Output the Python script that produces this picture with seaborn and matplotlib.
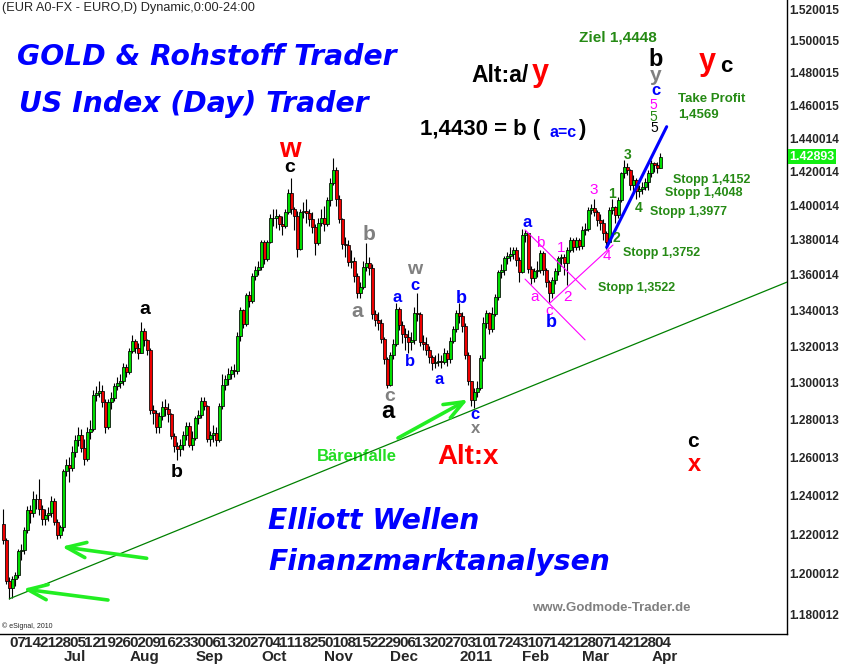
# %%
## LIBRARY
import numpy as np
import matplotlib.pyplot as plt
import matplotlib.transforms as mtransforms
from matplotlib import ticker, font_manager
import seaborn as sns

# %%
## DATA  (EUR/USD daily, bar 0 = 3 Jun 2010 ... bar 219 = 6 Apr 2011)
first_open = 1.2253

close = [
    1.2171, 1.1967, 1.1928, 1.1975, 1.1993, 1.2114, 1.2121, 1.2222, 1.2325, 1.2310,
    1.2385, 1.2380, 1.2331, 1.2277, 1.2300, 1.2310, 1.2370, 1.2266, 1.2200, 1.2236,
    1.2526, 1.2560, 1.2545, 1.2628, 1.2690, 1.2720, 1.2648, 1.2594, 1.2732, 1.2750,
    1.2935, 1.2945, 1.2955, 1.2898, 1.2762, 1.2894, 1.2916, 1.2984, 1.3000, 1.3010,
    1.3087, 1.3060, 1.3175, 1.3230, 1.3190, 1.3160, 1.3286, 1.3235, 1.3180, 1.2850,
    1.2836, 1.2759, 1.2820, 1.2868, 1.2860, 1.2829, 1.2716, 1.2660, 1.2645, 1.2666,
    1.2721, 1.2766, 1.2668, 1.2705, 1.2810, 1.2828, 1.2899, 1.2876, 1.2695, 1.2720,
    1.2727, 1.2690, 1.2876, 1.2990, 1.3020, 1.3050, 1.3071, 1.3065, 1.3256, 1.3402,
    1.3324, 1.3486, 1.3450, 1.3593, 1.3628, 1.3645, 1.3790, 1.3690, 1.3790, 1.3926,
    1.3930, 1.3940, 1.3890, 1.3880, 1.3965, 1.4076, 1.3980, 1.3940, 1.3750, 1.3960,
    1.3970, 1.3955, 1.3920, 1.3874, 1.3785, 1.3900, 1.3930, 1.3890, 1.4033, 1.4132,
    1.4210, 1.4037, 1.3920, 1.3777, 1.3770, 1.3675, 1.3680, 1.3591, 1.3495, 1.3530,
    1.3645, 1.3670, 1.3640, 1.3378, 1.3345, 1.3330, 1.3241, 1.3128, 1.2985, 1.3150,
    1.3215, 1.3409, 1.3320, 1.3267, 1.3250, 1.3225, 1.3232, 1.3386, 1.3380, 1.3225,
    1.3215, 1.3180, 1.3140, 1.3110, 1.3115, 1.3120, 1.3115, 1.3160, 1.3128, 1.3230,
    1.3294, 1.3383, 1.3370, 1.3310, 1.3152, 1.3007, 1.2908, 1.2950, 1.2970, 1.3137,
    1.3330, 1.3385, 1.3297, 1.3380, 1.3475, 1.3616, 1.3630, 1.3695, 1.3710, 1.3720,
    1.3740, 1.3685, 1.3616, 1.3830, 1.3838, 1.3636, 1.3585, 1.3620, 1.3628, 1.3727,
    1.3630, 1.3560, 1.3495, 1.3571, 1.3620, 1.3695, 1.3700, 1.3670, 1.3742, 1.3800,
    1.3760, 1.3800, 1.3765, 1.3860, 1.3865, 1.3974, 1.3985, 1.3960, 1.3918, 1.3900,
    1.3840, 1.3790, 1.3975, 1.3990, 1.3945, 1.4033, 1.4190, 1.4230, 1.4210, 1.4120,
    1.4150, 1.4085, 1.4100, 1.4110, 1.4140, 1.4190, 1.4250, 1.4240, 1.4225, 1.42893,
]

high = [
    1.2331, 1.2180, 1.1985, 1.1990, 1.2010, 1.2125, 1.2150, 1.2240, 1.2344, 1.2350,
    1.2425, 1.2410, 1.2487, 1.2350, 1.2330, 1.2340, 1.2400, 1.2390, 1.2280, 1.2250,
    1.2540, 1.2590, 1.2600, 1.2660, 1.2720, 1.2760, 1.2750, 1.2700, 1.2760, 1.2800,
    1.2960, 1.2980, 1.3010, 1.2990, 1.2910, 1.2910, 1.2950, 1.3000, 1.3030, 1.3050,
    1.3110, 1.3100, 1.3190, 1.3260, 1.3240, 1.3220, 1.3333, 1.3300, 1.3240, 1.3190,
    1.2880, 1.2850, 1.2840, 1.2900, 1.2910, 1.2890, 1.2835, 1.2730, 1.2680, 1.2700,
    1.2740, 1.2790, 1.2790, 1.2740, 1.2820, 1.2850, 1.2920, 1.2920, 1.2880, 1.2740,
    1.2770, 1.2760, 1.2890, 1.3050, 1.3040, 1.3080, 1.3090, 1.3100, 1.3280, 1.3420,
    1.3410, 1.3500, 1.3510, 1.3610, 1.3650, 1.3680, 1.3800, 1.3800, 1.3800, 1.3950,
    1.3980, 1.3980, 1.3950, 1.3940, 1.3980, 1.4100, 1.4160, 1.3990, 1.3970, 1.3980,
    1.4020, 1.4040, 1.3980, 1.3960, 1.3890, 1.3930, 1.3980, 1.4000, 1.4050, 1.4160,
    1.4282, 1.4230, 1.4060, 1.3930, 1.3820, 1.3800, 1.3740, 1.3700, 1.3610, 1.3560,
    1.3680, 1.3785, 1.3700, 1.3660, 1.3400, 1.3390, 1.3350, 1.3250, 1.3140, 1.3170,
    1.3240, 1.3440, 1.3420, 1.3340, 1.3300, 1.3290, 1.3280, 1.3420, 1.3500, 1.3390,
    1.3260, 1.3250, 1.3200, 1.3150, 1.3150, 1.3160, 1.3150, 1.3190, 1.3180, 1.3250,
    1.3310, 1.3400, 1.3440, 1.3390, 1.3330, 1.3170, 1.3010, 1.2970, 1.3010, 1.3150,
    1.3360, 1.3400, 1.3390, 1.3420, 1.3490, 1.3630, 1.3660, 1.3710, 1.3730, 1.3760,
    1.3760, 1.3760, 1.3700, 1.3862, 1.3860, 1.3840, 1.3650, 1.3640, 1.3680, 1.3740,
    1.3735, 1.3640, 1.3570, 1.3590, 1.3640, 1.3710, 1.3720, 1.3720, 1.3760, 1.3820,
    1.3810, 1.3820, 1.3810, 1.3880, 1.3900, 1.3990, 1.4010, 1.4037, 1.3975, 1.3950,
    1.3920, 1.3850, 1.3990, 1.4040, 1.4000, 1.4050, 1.4200, 1.4270, 1.4250, 1.4215,
    1.4180, 1.4160, 1.4120, 1.4140, 1.4160, 1.4210, 1.4270, 1.4260, 1.4260, 1.4310,
]

low = [
    1.2150, 1.1950, 1.1876, 1.1880, 1.1940, 1.1980, 1.2070, 1.2100, 1.2210, 1.2260,
    1.2290, 1.2330, 1.2300, 1.2250, 1.2250, 1.2270, 1.2290, 1.2250, 1.2175, 1.2180,
    1.2220, 1.2500, 1.2470, 1.2530, 1.2600, 1.2660, 1.2630, 1.2560, 1.2580, 1.2700,
    1.2740, 1.2900, 1.2920, 1.2870, 1.2730, 1.2750, 1.2860, 1.2900, 1.2960, 1.2970,
    1.2990, 1.3030, 1.3050, 1.3160, 1.3160, 1.3130, 1.3160, 1.3200, 1.3150, 1.2830,
    1.2780, 1.2730, 1.2730, 1.2800, 1.2820, 1.2790, 1.2700, 1.2630, 1.2588, 1.2610,
    1.2640, 1.2690, 1.2655, 1.2640, 1.2690, 1.2780, 1.2810, 1.2850, 1.2680, 1.2660,
    1.2680, 1.2660, 1.2680, 1.2860, 1.2960, 1.2990, 1.3020, 1.3030, 1.3050, 1.3230,
    1.3300, 1.3310, 1.3420, 1.3440, 1.3570, 1.3600, 1.3630, 1.3660, 1.3680, 1.3780,
    1.3880, 1.3870, 1.3860, 1.3830, 1.3870, 1.3950, 1.3950, 1.3860, 1.3700, 1.3740,
    1.3930, 1.3900, 1.3880, 1.3840, 1.3712, 1.3770, 1.3880, 1.3850, 1.3880, 1.4000,
    1.4120, 1.4000, 1.3900, 1.3750, 1.3700, 1.3650, 1.3640, 1.3560, 1.3467, 1.3470,
    1.3520, 1.3620, 1.3600, 1.3350, 1.3310, 1.3290, 1.3220, 1.3100, 1.2969, 1.2980,
    1.3130, 1.3200, 1.3290, 1.3220, 1.3180, 1.3160, 1.3180, 1.3210, 1.3340, 1.3200,
    1.3180, 1.3150, 1.3110, 1.3070, 1.3080, 1.3090, 1.3080, 1.3100, 1.3090, 1.3110,
    1.3220, 1.3280, 1.3330, 1.3280, 1.3130, 1.2990, 1.2875, 1.2861, 1.2920, 1.2960,
    1.3120, 1.3300, 1.3270, 1.3280, 1.3370, 1.3460, 1.3580, 1.3600, 1.3660, 1.3680,
    1.3690, 1.3650, 1.3560, 1.3610, 1.3790, 1.3610, 1.3550, 1.3560, 1.3590, 1.3610,
    1.3600, 1.3530, 1.3445, 1.3470, 1.3550, 1.3600, 1.3650, 1.3600, 1.3540, 1.3730,
    1.3730, 1.3740, 1.3740, 1.3750, 1.3830, 1.3850, 1.3950, 1.3940, 1.3880, 1.3860,
    1.3800, 1.3750, 1.3780, 1.3950, 1.3900, 1.3930, 1.4020, 1.4160, 1.4180, 1.4090,
    1.4080, 1.4040, 1.4050, 1.4070, 1.4090, 1.4090, 1.4170, 1.4200, 1.4190, 1.4220,
]

# weekly (Monday) tick labels and first trading bar of each month
day_labels = ["07", "14", "21", "28", "05", "12", "19", "26", "02", "09", "16", "23", "30",
              "06", "13", "20", "27", "04", "11", "18", "25", "01", "08", "15", "22", "29",
              "06", "13", "20", "27", "03", "10", "17", "24", "31", "07", "14", "21", "28",
              "07", "14", "21", "28", "04"]
month_labels = ["Jul", "Aug", "Sep", "Oct", "Nov", "Dec", "2011", "Feb", "Mar", "Apr"]
month_bars = [20, 42, 64, 86, 107, 129, 152, 173, 193, 216]

price_ticks = [1.180012, 1.200012, 1.220012, 1.240012, 1.260013, 1.280013, 1.300013,
               1.320013, 1.340013, 1.360014, 1.380014, 1.400014, 1.420014, 1.440014,
               1.460015, 1.480015, 1.500015, 1.520015]

# analyst drawings (bar, price)
trend_bars, trend_prices = [2, 261.2], [1.1876, 1.3559]
blue_bars, blue_prices = [201.1, 221.1], [1.3758, 1.4470]
pink_lines = [([173.9, 194.1], [1.3858, 1.3518]),
              ([173.9, 193.9], [1.3576, 1.3235]),
              ([182.2, 203.2], [1.3441, 1.3771])]

assert len(close) == len(high) == len(low)

# %%
## STYLE
sns.set_style("white")
plt.rcParams["font.family"] = ["Liberation Sans", "DejaVu Sans"]
installed = {f.name for f in font_manager.fontManager.ttflist}
narrow = "Liberation Sans Narrow" if "Liberation Sans Narrow" in installed else "Liberation Sans"

BLUE, RED, GRAY, PINK = "#0000ff", "#ff0000", "#808080", "#ff00ff"
GREEN_T, LIME = "#258a14", "#22ee22"

# %%
## PLOT
fig = plt.figure(figsize=(8.41, 6.65), dpi=100)
ax = fig.add_axes([0, 1 - 634 / 665, 787 / 841, 634 / 665])
ax.set_yscale("log")

bars = np.arange(len(close))
c = np.array(close)
h = np.array(high)
l = np.array(low)
o = np.concatenate([[first_open], c[:-1]])
up = c >= o

ax.vlines(bars, l, h, color="black", linewidth=0.8, zorder=2)
ax.bar(bars, np.maximum(np.abs(c - o), 0.0004), bottom=np.minimum(o, c), width=0.8,
       color=np.where(up, "#00dd00", "#ee0000"), edgecolor="black", linewidth=0.55, zorder=3)

# trend lines
sns.lineplot(x=trend_bars, y=trend_prices, ax=ax, color="#008000", linewidth=0.9, zorder=4)
sns.lineplot(x=blue_bars, y=blue_prices, ax=ax, color=BLUE, linewidth=2.2, zorder=4)
for xs, ys in pink_lines:
    sns.lineplot(x=xs, y=ys, ax=ax, color=PINK, linewidth=0.8, zorder=4)

ax.set_xlim(-1.1, 261.2)
ax.set_ylim(1.17025, 1.52578)
ax.set_xlabel("")
ax.set_ylabel("")

for s in ["left", "top"]:
    ax.spines[s].set_visible(False)
for s in ["right", "bottom"]:
    ax.spines[s].set_color("black")
    ax.spines[s].set_linewidth(1.0)

# axes
ax.yaxis.tick_right()
ax.set_yticks(price_ticks, [f"{v:.6f}" for v in price_ticks])
ax.yaxis.set_minor_locator(ticker.NullLocator())
ax.tick_params(axis="y", length=0, pad=1.5, labelsize=8.6)
for t in ax.get_yticklabels():
    t.set_fontweight("bold")

ax.set_xticks(range(2, 2 + 5 * len(day_labels), 5), day_labels)
ax.xaxis.set_minor_locator(ticker.NullLocator())
ax.tick_params(axis="x", length=0, pad=1.5)
for t in ax.get_xticklabels():
    t.set_fontweight("bold")
    t.set_family(narrow)
    t.set_fontsize(11)
    t.set_ha("left")

bt = mtransforms.blended_transform_factory(ax.transData, ax.transAxes)
for b, lab in zip(month_bars, month_labels):
    ax.text(b, -0.037, lab, transform=bt, ha="left", va="center",
            fontweight="bold", family=narrow, fontsize=11)

# last price box
rt = mtransforms.blended_transform_factory(ax.transAxes, ax.transData)
ax.text(1.0318, close[-1], f"{close[-1]:.5f}", transform=rt, ha="center", va="center",
        color="white", fontweight="bold", fontsize=9, clip_on=False, zorder=6,
        bbox=dict(boxstyle="square,pad=0.12", fc="#11ee11", ec="none"))

# %%
## ANNOTATIONS
wave_labels = [
    ("w", 95.6, 1.4330, RED, 20, "bold"), ("c", 95.6, 1.4228, "black", 14, "bold"),
    ("a", 47.2, 1.3402, "black", 14, "bold"), ("b", 57.9, 1.2521, "black", 14, "bold"),
    ("b", 121.9, 1.3829, GRAY, 15, "bold"), ("a", 117.9, 1.3391, GRAY, 15, "bold"),
    ("w", 137.2, 1.3628, GRAY, 14, "bold"), ("c", 137.2, 1.3537, BLUE, 12, "bold"),
    ("a", 131.3, 1.3474, BLUE, 12, "bold"), ("b", 135.6, 1.3114, BLUE, 12, "bold"),
    ("a", 145.3, 1.3016, BLUE, 12, "bold"), ("b", 152.8, 1.3469, BLUE, 13, "bold"),
    ("c", 128.7, 1.2924, GRAY, 14, "bold"), ("a", 128.3, 1.2844, "black", 17, "bold"),
    ("c", 157.2, 1.2828, BLUE, 12, "bold"), ("x", 157.5, 1.2753, GRAY, 12, "bold"),
    ("a", 174.5, 1.3904, BLUE, 12, "bold"), ("b", 179.0, 1.3783, PINK, 11, "normal"),
    ("a", 177.2, 1.3474, PINK, 11, "normal"), ("c", 182.0, 1.3396, PINK, 11, "normal"),
    ("b", 182.5, 1.3329, BLUE, 13, "bold"), ("1", 185.9, 1.3754, PINK, 11, "normal"),
    ("2", 187.9, 1.3474, PINK, 11, "normal"), ("3", 196.9, 1.4092, PINK, 11, "normal"),
    ("4", 201.1, 1.3708, PINK, 11, "normal"), ("2", 204.2, 1.3812, GREEN_T, 10, "bold"),
    ("1", 202.9, 1.4068, GREEN_T, 10, "bold"), ("3", 207.9, 1.4300, GREEN_T, 10, "bold"),
    ("4", 211.9, 1.3986, GREEN_T, 10, "bold"),
    ("b", 217.4, 1.4885, "black", 17, "bold"), ("y", 217.4, 1.4786, GRAY, 15, "bold"),
    ("c", 217.4, 1.4690, BLUE, 12, "bold"), ("5", 216.7, 1.4601, PINK, 10, "normal"),
    ("5", 216.7, 1.4530, GREEN_T, 10, "normal"), ("5", 216.9, 1.4462, "black", 10, "normal"),
    ("y", 234.5, 1.4866, RED, 22, "bold"), ("c", 241.1, 1.4838, "black", 16, "bold"),
    ("c", 229.9, 1.2683, "black", 15, "bold"), ("x", 230.2, 1.2561, RED, 17, "bold"),
]
for txt, b, p, col, size, weight in wave_labels:
    ax.text(b, p, txt, color=col, fontsize=size, fontweight=weight,
            ha="center", va="center", zorder=5)

price_notes = [
    ("Ziel 1,4448", 192.0, 1.5020, GREEN_T, 11), ("Take Profit", 225.0, 1.4636, GREEN_T, 9.5),
    ("1,4569", 225.0, 1.4541, GREEN_T, 9.5), ("Stopp 1,4152", 223.3, 1.4151, GREEN_T, 9),
    ("Stopp 1,4048", 220.6, 1.4074, GREEN_T, 9), ("Stopp 1,3977", 215.6, 1.3964, GREEN_T, 9),
    ("Stopp 1,3752", 206.5, 1.3725, GREEN_T, 9), ("Stopp 1,3522", 198.2, 1.3528, GREEN_T, 9),
    ("Alt:a/", 156.1, 1.4786, "black", 16.5), ("y", 176.0, 1.4798, RED, 22),
    ("1,4430 = b (", 138.9, 1.4450, "black", 16), ("a=c", 182.2, 1.4432, BLUE, 11.5),
    (")", 191.6, 1.4450, "black", 16),
]
for txt, b, p, col, size in price_notes:
    ax.text(b, p, txt, color=col, fontsize=size, fontweight="bold",
            ha="left", va="center", zorder=5)

big = dict(color=BLUE, fontsize=20.3, fontweight="bold", fontstyle="italic",
           family="DejaVu Sans", ha="left", va="center", transform=ax.transAxes)
ax.text(0.0216, 0.910, "GOLD & Rohstoff Trader", **big)
ax.text(0.0241, 0.836, "US Index (Day) Trader", **big)
ax.text(0.3405, 0.178, "Elliott Wellen", **big)
ax.text(0.3405, 0.1136, "Finanzmarktanalysen", **big)

ax.text(0.0025, 0.987, "(EUR A0-FX - EURO,D) Dynamic,0:00-24:00", transform=ax.transAxes,
        fontsize=9.2, ha="left", va="center")
ax.text(0.4028, 0.2792, "Bärenfalle", transform=ax.transAxes, color="#22dd22",
        fontsize=12, fontweight="bold", ha="left", va="center")
ax.text(0.5553, 0.2792, "Alt:x", transform=ax.transAxes, color=RED,
        fontsize=20, fontweight="bold", ha="left", va="center")
ax.text(0.676, 0.041, "www.Godmode-Trader.de", transform=ax.transAxes, color=GRAY,
        fontsize=9.5, fontweight="bold", ha="left", va="center")
ax.text(0.0025, 0.0126, "© eSignal, 2010", transform=ax.transAxes,
        fontsize=5, ha="left", va="center")

arrow = dict(arrowstyle="->,head_length=1.4,head_width=0.55", color=LIME, lw=2.6,
             mutation_scale=10, shrinkA=0, shrinkB=0)
for tail, head in [((0.1372, 0.0536), (0.0292, 0.0710)),
                   ((0.1864, 0.1194), (0.0784, 0.1377)),
                   ((0.5057, 0.3091), (0.5947, 0.3699))]:
    ax.annotate("", xy=head, xytext=tail, xycoords="axes fraction",
                textcoords="axes fraction", arrowprops=arrow, zorder=5)

fig.savefig("out.png", dpi=100)
